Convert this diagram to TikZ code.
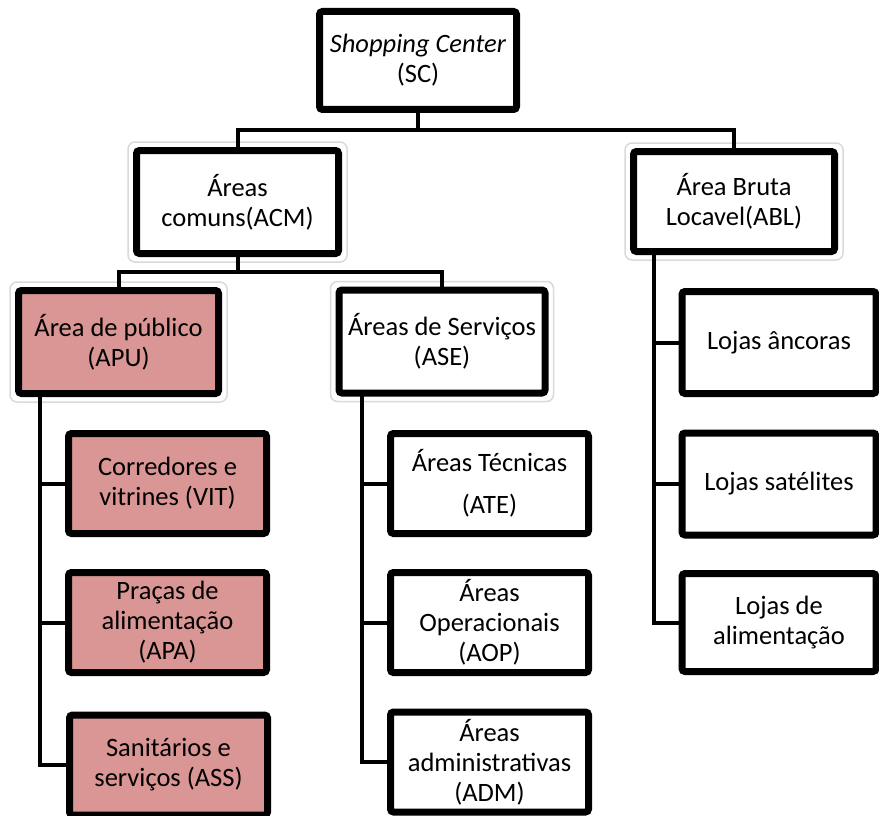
\documentclass[tikz,border=0pt]{standalone}
\usepackage{fontspec}
\setmainfont{Carlito}
\usetikzlibrary{calc,shadows}
\definecolor{pinkfill}{HTML}{D99694}
\tikzset{
  box/.style={draw=black, line width=7pt, rounded corners=3pt, fill=white,
    align=center, inner sep=0pt, font=\fontsize{26.5}{30}\selectfont,
    minimum width=#1, minimum height=100pt,
    drop shadow={shadow xshift=1.5pt, shadow yshift=-2pt, opacity=0.3, fill=black!60}},
  box/.default=198pt,
  pinkbox/.style={box=#1, fill=pinkfill},
  pinkbox/.default=198pt,
  conn/.style={draw=black, line width=4pt, line cap=rect, line join=miter},
  glow/.style={draw=black!15, line width=1.5pt, rounded corners=7pt}
}
\begin{document}
\begin{tikzpicture}[x=1pt,y=-1pt]
\useasboundingbox (0,0) rectangle (879,816);

\node[box=197pt, minimum height=98pt] (SC) at (418,60.5) {\textit{Shopping Center}\\(SC)};
\node[box=202pt, minimum height=103pt] (ACM) at (237.5,202) {Áreas\\comuns(ACM)};
\node[box=201pt, minimum height=100pt] (ABL) at (734,201.5) {Área Bruta\\Locavel(ABL)};
\node[pinkbox=200pt, minimum height=103pt] (APU) at (118.5,342) {Área de público\\(APU)};
\node[box=206pt, minimum height=103pt] (ASE) at (442,341.5) {Áreas de Serviços\\(ASE)};

% soft glow rings round the upper-level boxes
\foreach \n in {ACM,ABL,APU,ASE}{
  \draw[glow] ($(\n.south west)+(-5,5)$) rectangle ($(\n.north east)+(5,-5)$);
}

\node[pinkbox] (VIT) at (167.5,483.5) {Corredores e\\vitrines (VIT)};
\node[pinkbox] (APA) at (167.5,622.5) {Praças de\\alimentação\\(APA)};
\node[pinkbox] (ASS) at (168.5,765) {Sanitários e\\serviços (ASS)};

\node[box] (ATE) at (489.5,483.5) {Áreas Técnicas\\[12pt](ATE)};
\node[box] (AOP) at (489.5,622.5) {Áreas\\Operacionais\\(AOP)};
\node[box] (ADM) at (489.5,762) {Áreas\\administrativas\\(ADM)};

\node[box=194pt, minimum height=102pt] (LAN) at (779,342.5) {Lojas âncoras};
\node[box=194pt, minimum height=102pt] (LSA) at (779,484) {Lojas satélites};
\node[box=194pt, minimum height=98pt] (LAL) at (779,622.5) {Lojas de\\alimentação};

% connectors
\coordinate (j1) at (418,130);
\draw[conn] (SC.south) -- (j1);
\draw[conn] (ACM.north) |- (j1) -| (ABL.north);

\coordinate (j2) at (237.5,272);
\draw[conn] (ACM.south) -- (j2);
\draw[conn] (APU.north) |- (j2) -| (ASE.north);

\coordinate (a1) at (40,394);
\draw[conn] (a1) |- (ASS.west);
\draw[conn] (a1 |- VIT.west) -- (VIT.west);
\draw[conn] (a1 |- APA.west) -- (APA.west);

\coordinate (s1) at (362,395);
\draw[conn] (s1) |- (ADM.west);
\draw[conn] (s1 |- ATE.west) -- (ATE.west);
\draw[conn] (s1 |- AOP.west) -- (AOP.west);

\coordinate (b1) at (654,252);
\draw[conn] (b1) |- (LAL.west);
\draw[conn] (b1 |- LAN.west) -- (LAN.west);
\draw[conn] (b1 |- LSA.west) -- (LSA.west);
\end{tikzpicture}
\end{document}
